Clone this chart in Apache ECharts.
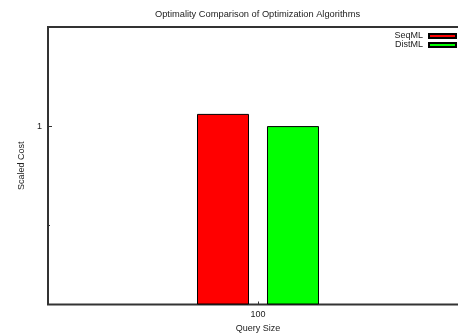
<!DOCTYPE html>
<html>
<head>
<meta charset="utf-8">
<script src="https://cdn.jsdelivr.net/npm/echarts@6/dist/echarts.min.js"></script>
<style>
  html, body { margin: 0; padding: 0; background: #fff; }
  #chart { width: 458px; height: 334px; }
</style>
</head>
<body>
<div id="chart"></div>
<script>
// Query sizes on the x axis
const categories = ['100'];
// Scaled cost per algorithm
const seqML = [1.013];
const distML = [1.0];
// Log-scale value range and ticks
const yMin = 0.8276;
const yMax = 1.1108;
const yMajorTicks = [1];
const yMinorTicks = [0.9];

const FONT = '"Liberation Sans", Arial, sans-serif';
const INK = '#222';

const chart = echarts.init(document.getElementById('chart'), null, { renderer: 'canvas' });

chart.setOption({
  animation: false,
  backgroundColor: '#fff',
  textStyle: { fontFamily: FONT },
  title: {
    text: 'Optimality Comparison of Optimization Algorithms',
    left: 252.5,
    top: 5,
    textAlign: 'center',
    textStyle: { fontSize: 9.3, fontWeight: 'normal', color: INK, fontFamily: FONT }
  },
  legend: {
    orient: 'vertical',
    right: 1,
    top: 31.5,
    padding: 0,
    align: 'right',
    itemWidth: 27,
    itemHeight: 4,
    itemGap: 0,
    icon: 'rect',
    textStyle: { fontSize: 9, lineHeight: 9, color: INK, fontFamily: FONT, padding: [0, 1, 0, 0] },
    data: ['SeqML', 'DistML']
  },
  grid: {
    left: 48,
    top: 27,
    width: 420,
    height: 277.5,
    outerBoundsMode: 'none',
    containLabel: false,
    show: true,
    borderColor: '#333',
    borderWidth: 2,
    backgroundColor: 'transparent'
  },
  xAxis: {
    type: 'category',
    data: categories,
    name: 'Query Size',
    nameLocation: 'middle',
    nameGap: 17,
    nameTextStyle: { fontSize: 9, color: INK, fontFamily: FONT },
    axisLine: { show: false },
    axisTick: { show: true, inside: true, alignWithLabel: true, length: 3, lineStyle: { color: '#333', width: 1 } },
    axisLabel: { fontSize: 9, color: INK, margin: 6, fontFamily: FONT },
    splitLine: { show: false }
  },
  yAxis: [
    {
      type: 'log',
      logBase: 10,
      min: yMin,
      max: yMax,
      startValue: yMin,
      name: 'Scaled Cost',
      nameLocation: 'middle',
      nameGap: 20,
      nameTextStyle: { fontSize: 9, color: INK, fontFamily: FONT },
      axisLine: { show: false },
      axisTick: { show: true, inside: true, length: 4, customValues: yMajorTicks, lineStyle: { color: '#333', width: 1 } },
      axisLabel: { fontSize: 9, color: INK, margin: 6, customValues: yMajorTicks, fontFamily: FONT },
      splitLine: { show: false }
    },
    {
      type: 'log',
      logBase: 10,
      min: yMin,
      max: yMax,
      position: 'left',
      axisLine: { show: false },
      axisTick: { show: true, inside: true, length: 2, customValues: yMinorTicks, lineStyle: { color: '#333', width: 1 } },
      axisLabel: { show: false },
      splitLine: { show: false }
    }
  ],
  series: [
    {
      name: 'SeqML',
      type: 'bar',
      data: seqML,
      barWidth: 52,
      barGap: '34.6%',
      itemStyle: { color: '#ff0000', borderColor: '#000', borderWidth: 1 }
    },
    {
      name: 'DistML',
      type: 'bar',
      data: distML,
      barWidth: 52,
      itemStyle: { color: '#00ff00', borderColor: '#000', borderWidth: 1 }
    }
  ]
});
</script>
</body>
</html>
